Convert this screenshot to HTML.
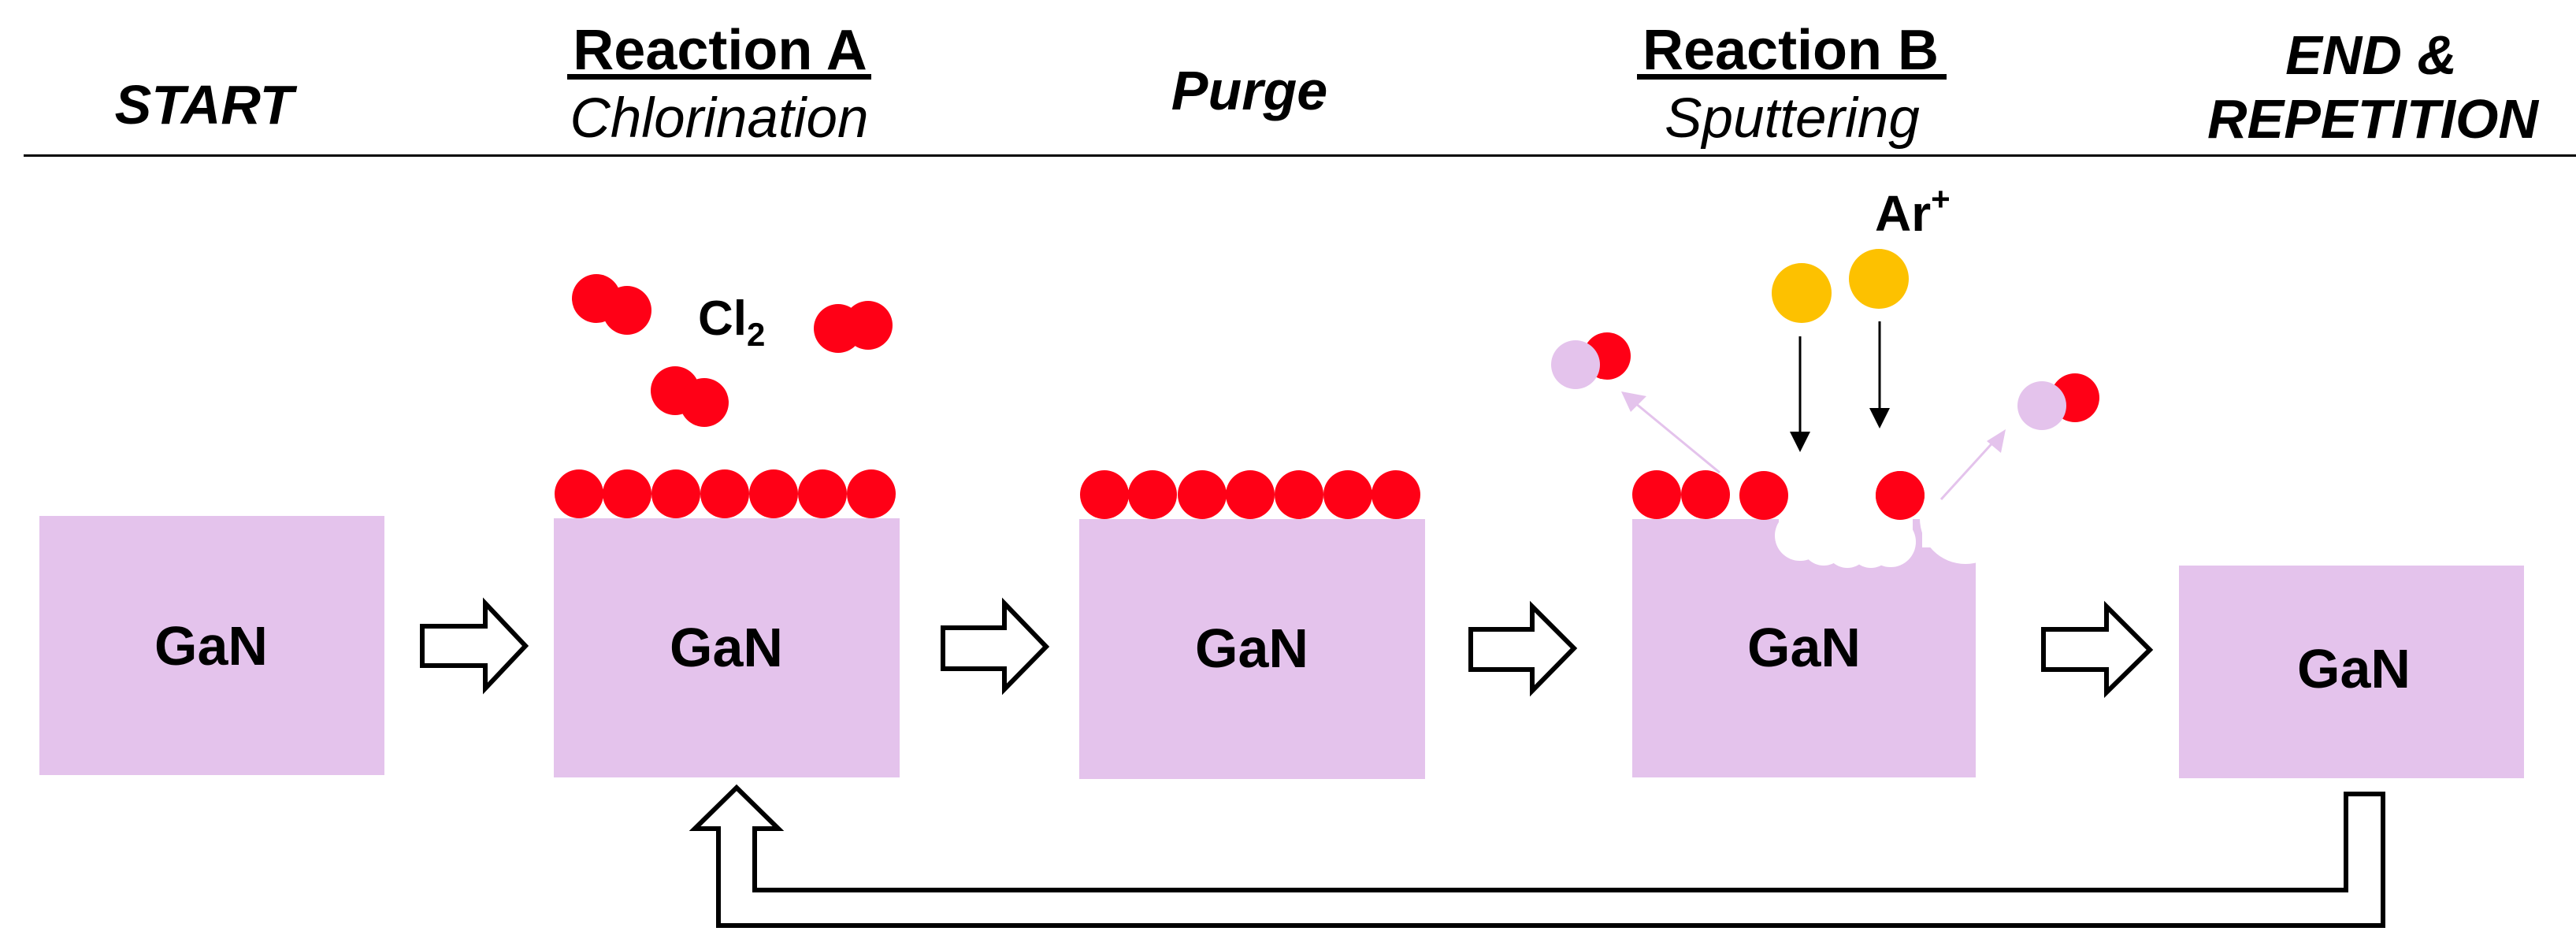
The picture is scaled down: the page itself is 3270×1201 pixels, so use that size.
<!DOCTYPE html>
<html><head><meta charset="utf-8"><style>
html,body{margin:0;padding:0;background:#fff;}
svg{display:block;}
text{font-family:"Liberation Sans",Arial,sans-serif;fill:#000;}
</style></head><body>
<svg width="3270" height="1201" viewBox="0 0 3270 1201" xmlns="http://www.w3.org/2000/svg">
<text x="259" y="157" font-size="70" font-weight="bold" font-style="italic" text-anchor="middle">START</text>
<text x="914" y="88" font-size="72" font-weight="bold" text-anchor="middle">Reaction A</text>
<rect x="720" y="94" width="386" height="7" fill="#000"/>
<text x="913" y="174" font-size="71" font-style="italic" text-anchor="middle">Chlorination</text>
<text x="1586" y="139" font-size="70" font-weight="bold" font-style="italic" text-anchor="middle">Purge</text>
<text x="2273" y="88" font-size="72" font-weight="bold" text-anchor="middle">Reaction B</text>
<rect x="2078" y="94" width="393" height="7" fill="#000"/>
<text x="2275" y="174" font-size="71" font-style="italic" text-anchor="middle">Sputtering</text>
<text x="3010" y="94" font-size="70" font-weight="bold" font-style="italic" text-anchor="middle">END &amp;</text>
<text x="3012" y="175" font-size="70" font-weight="bold" font-style="italic" text-anchor="middle">REPETITION</text>
<rect x="30" y="196" width="3240" height="3" fill="#000"/>

<g fill="#e4c3ec">
<rect x="50" y="655" width="438" height="329"/>
<rect x="703" y="658" width="439" height="329"/>
<rect x="1370" y="659" width="439" height="330"/>
<rect x="2072" y="659" width="436" height="328"/>
<rect x="2766" y="718" width="438" height="270"/>
</g>
<g font-size="70" font-weight="bold" text-anchor="middle">
<text x="268" y="844">GaN</text>
<text x="922" y="846">GaN</text>
<text x="1589" y="847">GaN</text>
<text x="2290" y="846">GaN</text>
<text x="2988" y="873">GaN</text>
</g>

<g fill="#ff0016">
<circle cx="735" cy="627" r="31"/><circle cx="796" cy="627" r="31"/><circle cx="858" cy="627" r="31"/><circle cx="920" cy="627" r="31"/><circle cx="982" cy="627" r="31"/><circle cx="1044" cy="627" r="31"/><circle cx="1106" cy="627" r="31"/>
<circle cx="1402" cy="628" r="31"/><circle cx="1463" cy="628" r="31"/><circle cx="1526" cy="628" r="31"/><circle cx="1587" cy="628" r="31"/><circle cx="1649" cy="628" r="31"/><circle cx="1711" cy="628" r="31"/><circle cx="1772" cy="628" r="31"/>
<circle cx="2103" cy="628" r="31"/><circle cx="2165" cy="628" r="31"/><circle cx="2239" cy="629" r="31"/><circle cx="2412" cy="629" r="31"/>
<circle cx="757" cy="379" r="31"/><circle cx="796" cy="394" r="31"/>
<circle cx="1064" cy="417" r="31"/><circle cx="1102" cy="413" r="31"/>
<circle cx="857" cy="496" r="31"/><circle cx="894" cy="511" r="31"/>
</g>
<text x="886" y="425" font-size="62" font-weight="bold">Cl<tspan font-size="42" dy="14">2</tspan></text>

<g fill="#fff">
<circle cx="2285" cy="680" r="32"/><circle cx="2315" cy="690" r="28"/><circle cx="2345" cy="693" r="28"/><circle cx="2375" cy="693" r="28"/><circle cx="2400" cy="688" r="32"/>
<rect x="2258" y="655" width="170" height="30"/>
<circle cx="2495" cy="658" r="58"/>
<rect x="2440" y="655" width="75" height="40"/>
</g>
<circle cx="2412" cy="629" r="31" fill="#ff0016"/>

<text x="2380" y="293" font-size="64" font-weight="bold">Ar<tspan font-size="42" dy="-26">+</tspan></text>
<g fill="#fdc100"><circle cx="2287" cy="372" r="38"/><circle cx="2385" cy="354" r="38"/></g>
<g stroke="#000" stroke-width="3"><line x1="2285" y1="427" x2="2285" y2="555"/><line x1="2386" y1="408" x2="2386" y2="525"/></g>
<g fill="#000"><polygon points="2272,548 2298,548 2285,574"/><polygon points="2373,518 2399,518 2386,544"/></g>

<circle cx="2040" cy="452" r="30" fill="#ff0016"/><circle cx="2000" cy="463" r="31" fill="#e4c3ec"/>
<circle cx="2634" cy="505" r="31" fill="#ff0016"/><circle cx="2592" cy="515" r="31" fill="#e4c3ec"/>
<g stroke="#e4c3ec" stroke-width="3"><line x1="2183" y1="600" x2="2070" y2="507"/><line x1="2464" y1="634" x2="2535" y2="556"/></g>
<g fill="#e4c3ec"><polygon points="2058,497 2090,503 2070,523"/><polygon points="2546,545 2540,575 2522,560"/></g>

<g fill="#fff" stroke="#000" stroke-width="6" stroke-linejoin="miter">
<polygon points="536,795 616,795 616,766 667,820 616,874 616,845 536,845"/>
<polygon points="1197,797 1275,797 1275,766 1328,821 1275,875 1275,849 1197,849"/>
<polygon points="1867,799 1945,799 1945,770 1998,823 1945,877 1945,850 1867,850"/>
<polygon points="2594,799 2674,799 2674,770 2729,825 2674,879 2674,850 2594,850"/>
<polygon points="2978,1008 3025,1008 3025,1175 912,1175 912,1052 882,1052 935,1000 988,1052 958,1052 958,1130 2978,1130"/>
</g>
</svg>
</body></html>
